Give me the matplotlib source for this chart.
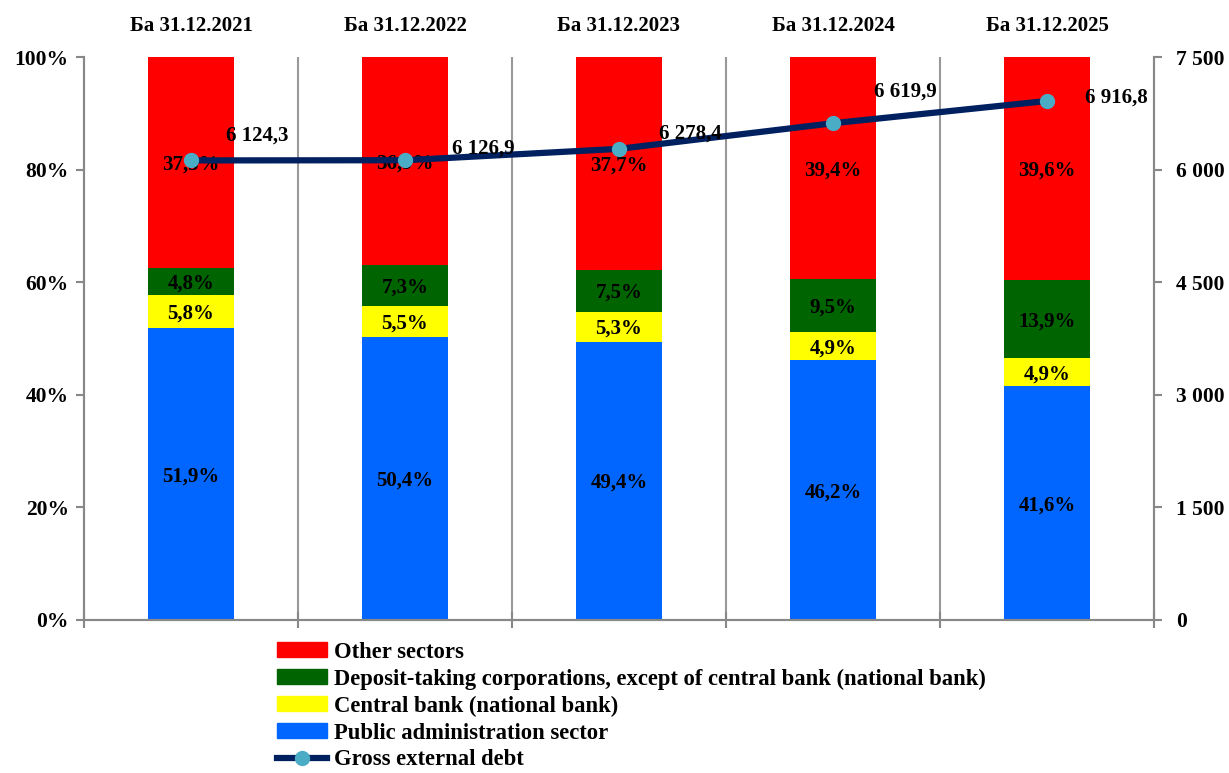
import matplotlib.pyplot as plt
import numpy as np
from matplotlib.lines import Line2D
from matplotlib.patches import Patch

plt.rcParams['font.family'] = ['Liberation Serif', 'DejaVu Serif']
plt.rcParams['font.weight'] = 'bold'

categories = ['Ба 31.12.2021', 'Ба 31.12.2022', 'Ба 31.12.2023', 'Ба 31.12.2024', 'Ба 31.12.2025']
public_admin = [51.9, 50.4, 49.4, 46.2, 41.6]
central_bank = [5.8, 5.5, 5.3, 4.9, 4.9]
deposit_taking = [4.8, 7.3, 7.5, 9.5, 13.9]
other_sectors = [37.5, 36.9, 37.7, 39.4, 39.6]
gross_debt = [6124.3, 6126.9, 6278.4, 6619.9, 6916.8]
right_ticks = [0, 1500, 3000, 4500, 6000, 7500]

series = [
    ('Public administration sector', public_admin, '#0066FF'),
    ('Central bank (national bank)', central_bank, '#FFFF00'),
    ('Deposit-taking corporations, except of central bank (national bank)', deposit_taking, '#006400'),
    ('Other sectors', other_sectors, '#FF0000'),
]

# label offsets in points for the debt labels
debt_offsets = [(66, 25), (78, 12), (71, 15), (72, 32), (69, 3)]

FS = 15

fig = plt.figure(figsize=(12.29, 7.73), dpi=100)
ax = fig.add_axes([0.0683, 0.198, 0.8707, 0.728])

x = np.arange(len(categories))
# stacked to 100% like the original
totals = np.sum([s[1] for s in series], axis=0)
bottom = np.zeros(len(categories))
for name, vals, col in series:
    vals = np.array(vals)
    h = vals / totals * 100
    ax.bar(x, h, 0.4, bottom=bottom, color=col, label=name, zorder=2)
    for xi, b, hh, v in zip(x, bottom, h, vals):
        ax.text(xi, b + hh / 2 - 0.4, ('%.1f%%' % v).replace('.', ','), ha='center', va='center',
                fontsize=FS, fontweight='bold', zorder=5)
    bottom += h

ax.set_xlim(-0.5, len(categories) - 0.5)
ax.set_ylim(0, 100)
ax.set_yticks([0, 20, 40, 60, 80, 100])
ax.set_yticklabels(['%d%%' % v for v in [0, 20, 40, 60, 80, 100]], fontsize=15.5, fontweight='bold')

# boundaries between categories
bounds = np.arange(len(categories) + 1) - 0.5
ax.set_xticks(bounds)
ax.set_xticklabels([])
ax.tick_params(axis='x', direction='inout', length=12, color='#888888', width=1.5)
ax.tick_params(axis='y', direction='out', length=6, color='#888888', width=1.5, pad=5)
for b in bounds[1:-1]:
    ax.axvline(b, color='#999999', lw=1.5, zorder=1)

for xi, c in zip(x, categories):
    ax.text(xi, 1.055, c, transform=ax.get_xaxis_transform(), ha='center', va='center',
            fontsize=FS, fontweight='bold')

for s in ['left', 'bottom', 'right']:
    ax.spines[s].set_color('#888888')
    ax.spines[s].set_linewidth(1.5)
ax.spines['top'].set_visible(False)

ax2 = ax.twinx()
ax2.plot(x, gross_debt, color='#002060', lw=4.5, marker='o', markersize=10,
         markerfacecolor='#4BACC6', markeredgecolor='#4BACC6', zorder=4)
ax2.set_ylim(0, 7500)
ax2.set_yticks(right_ticks)
ax2.set_yticklabels([('{:,}'.format(v)).replace(',', ' ') for v in right_ticks], fontsize=15.5, fontweight='bold')
ax2.tick_params(axis='y', direction='out', length=6, color='#888888', width=1.5, pad=10)
for s in ['left', 'bottom', 'right']:
    ax2.spines[s].set_color('#888888')
    ax2.spines[s].set_linewidth(1.5)
ax2.spines['top'].set_visible(False)

for xi, v, off in zip(x, gross_debt, debt_offsets):
    lbl = ('{:,.1f}'.format(v)).replace(',', ' ').replace('.', ',')
    ax2.annotate(lbl, (xi, v), xytext=(off[0] * 0.72, off[1] * 0.72), textcoords='offset points',
                 ha='center', va='center', fontsize=FS, fontweight='bold', zorder=6)

handles = [Patch(color=c, label=n) for n, _, c in series[::-1]]
handles.append(Line2D([0], [0], color='#002060', lw=4.5, marker='o', markersize=10,
                      markerfacecolor='#4BACC6', markeredgecolor='#4BACC6', label='Gross external debt'))
fig.legend(handles=handles, loc='upper left', bbox_to_anchor=(0.225, 0.17), frameon=False,
           prop={'size': 16.3, 'weight': 'bold'}, handlelength=2.25, handleheight=0.65,
           handletextpad=0.3, labelspacing=0.26, borderaxespad=0, borderpad=0)

fig.savefig('out.png', dpi=100)
